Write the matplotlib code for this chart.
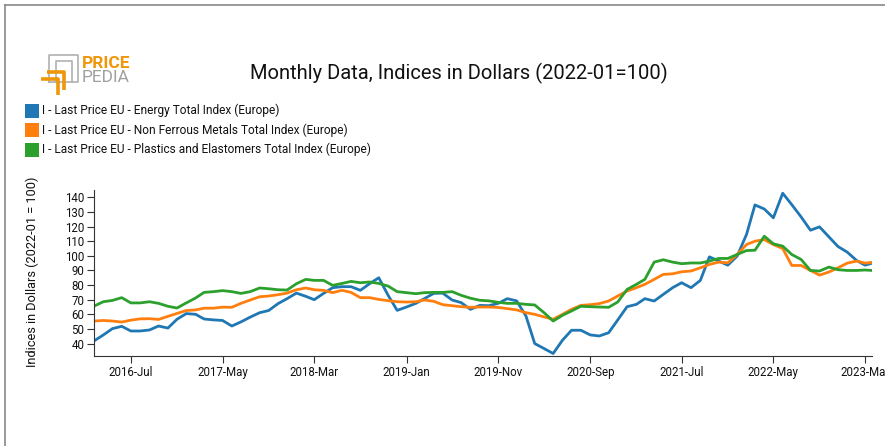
import matplotlib
matplotlib.use("Agg")
import matplotlib.pyplot as plt
import matplotlib.dates as mdates
from matplotlib.lines import Line2D
from matplotlib.patches import Rectangle
import pandas as pd

# monthly points 2016-03 .. 2023-03, plus the partial last point of March 2023
dates = list(pd.date_range("2016-03-01", "2023-03-01", freq="MS")) + [pd.Timestamp("2023-03-24")]

energy = [41.8, 45.9, 50.2, 51.8, 48.6, 48.6, 49.3, 52.0, 50.6, 56.6,
          60.5, 60.0, 56.8, 56.2, 55.8, 52.0, 54.8, 58.1, 61.1, 62.6,
          67.3, 70.7, 74.5, 72.3, 70.0, 74.3, 78.2, 78.9, 78.9, 76.4,
          81.0, 85.0, 73.0, 62.7, 65.0, 67.5, 70.7, 74.3, 74.5, 69.8,
          68.0, 63.4, 66.1, 65.9, 67.5, 70.7, 69.2, 58.8, 40.0, 36.6,
          33.2, 42.3, 49.1, 49.1, 45.9, 45.2, 47.4, 56.1, 65.2, 66.8,
          70.7, 69.1, 73.6, 78.2, 81.6, 78.2, 83.2, 99.3, 96.4, 93.6,
          99.8, 114.6, 134.8, 132.0, 126.0, 142.8, 135.0, 126.6, 117.5, 119.8,
          113.0, 106.4, 102.5, 96.8, 93.6, 95.0]

metals = [55.4, 55.8, 55.4, 54.7, 56.0, 56.9, 57.0, 56.5, 58.6, 60.6,
          62.6, 63.0, 64.2, 64.2, 64.9, 64.8, 67.5, 69.8, 72.0, 72.5,
          73.4, 74.5, 76.8, 78.0, 76.8, 76.4, 74.8, 76.4, 75.0, 71.4,
          71.4, 70.2, 69.3, 68.6, 68.4, 68.6, 69.8, 68.9, 66.6, 65.9,
          65.2, 64.8, 65.0, 65.0, 64.7, 63.9, 63.0, 61.1, 60.0, 58.2,
          56.6, 60.0, 63.4, 66.1, 66.6, 67.3, 69.1, 72.5, 75.9, 78.2,
          80.5, 83.9, 87.3, 87.7, 89.1, 89.6, 91.8, 94.1, 95.7, 95.2,
          100.9, 107.7, 110.0, 111.1, 107.7, 105.0, 93.4, 93.4, 90.0, 86.8,
          88.9, 91.8, 95.0, 96.4, 95.0, 95.5]

plastics = [65.6, 68.6, 69.5, 71.4, 67.8, 67.8, 68.6, 67.5, 65.5, 64.3,
            67.8, 71.2, 75.0, 75.5, 76.2, 75.5, 74.3, 75.5, 78.0, 77.5,
            76.8, 76.6, 80.9, 83.9, 83.2, 83.2, 79.8, 81.1, 82.5, 81.6,
            82.1, 81.1, 79.3, 75.5, 74.8, 74.1, 74.8, 75.0, 75.0, 75.5,
            73.0, 71.0, 69.6, 69.2, 68.2, 67.5, 67.5, 66.8, 66.4, 61.1,
            55.4, 59.3, 62.3, 65.5, 65.2, 65.0, 64.8, 68.4, 77.0, 80.5,
            83.9, 95.7, 97.3, 95.7, 94.6, 95.1, 95.1, 96.4, 98.2, 98.2,
            100.9, 103.6, 103.8, 113.4, 108.2, 106.6, 100.9, 97.5, 90.0, 89.6,
            92.3, 90.5, 90.0, 90.0, 90.3, 90.0]

series_names = ["I - Last Price EU - Energy Total Index (Europe)",
                "I - Last Price EU - Non Ferrous Metals Total Index (Europe)",
                "I - Last Price EU - Plastics and Elastomers Total Index (Europe)"]
colors = ["#1f77b4", "#ff7f0e", "#2ca02c"]

y_ticks = [40, 50, 60, 70, 80, 90, 100, 110, 120, 130, 140]
x_ticks = pd.date_range("2016-07-01", periods=9, freq="10MS")

plt.rcParams["font.family"] = ["Roboto", "DejaVu Sans"]

fig = plt.figure(figsize=(8.85, 4.46), dpi=100)
ax = fig.add_axes([94 / 885, 1 - 356 / 446, (872 - 94) / 885, (356 - 190) / 446])

for vals, c in zip([energy, metals, plastics], colors):
    ax.plot(dates, vals, color=c, lw=2.0)

ax.set_xlim(dates[0], dates[-1])
ax.set_ylim(31.5, 145)
ax.set_yticks(y_ticks)
ax.set_xticks(x_ticks)
ax.xaxis.set_major_formatter(mdates.DateFormatter("%Y-%b"))
ax.tick_params(labelsize=8.3, length=5, width=0.8, color="#333333", labelcolor="#111111", pad=2)
for s in ["top", "right"]:
    ax.spines[s].set_visible(False)
for s in ["left", "bottom"]:
    ax.spines[s].set_color("#333333")
    ax.spines[s].set_linewidth(0.8)

# y-axis label
fig.text(32 / 885, 1 - 272 / 446, "Indices in Dollars (2022-01 = 100)", rotation=90,
         ha="center", va="center", fontsize=9.2, color="#111111")

# title
fig.text(459 / 885, 1 - 73 / 446, "Monthly Data, Indices in Dollars (2022-01=100)",
         ha="center", va="center", fontsize=14.5, color="#111111")

# legend
for i, (name, c) in enumerate(zip(series_names, colors)):
    yc = 110.5 + i * 19.5
    fig.add_artist(Rectangle((25 / 885, 1 - (yc + 7) / 446), 14 / 885, 14 / 446,
                             transform=fig.transFigure, color=c, lw=0))
    fig.text(42 / 885, 1 - yc / 446, name, ha="left", va="center", fontsize=8.6, color="#111111")

# logo
def fline(xs, ys, **kw):
    fig.add_artist(Line2D([x / 885 for x in xs], [1 - y / 446 for y in ys],
                          transform=fig.transFigure, **kw))

fline([49, 49, 78, 78, 49], [82, 55, 55, 82, 82], color="#b0b0b0", lw=1.2)
fline([56, 56, 72, 72], [82, 61, 61, 82], color="#b0b0b0", lw=1.2)
fline([41, 58, 58], [79, 79, 95], color="#f0960a", lw=2.6, solid_capstyle="butt")
fline([47, 64, 64], [72, 72, 90], color="#f0960a", lw=2.6, solid_capstyle="butt")
fig.text(82 / 885, 1 - 63 / 446, "PRICE", ha="left", va="center", fontsize=12.5,
         fontweight="bold", color="#f0960a")
fig.text(82 / 885, 1 - 78 / 446, "PEDIA", ha="left", va="center", fontsize=12.5,
         color="#a0a0a0")

# frame on left and top edges
fline([5, 5], [5, 446], color="#888888", lw=1.2)
fline([5, 885], [5, 5], color="#888888", lw=1.2)

fig.savefig("out.png", dpi=100, facecolor="white")
